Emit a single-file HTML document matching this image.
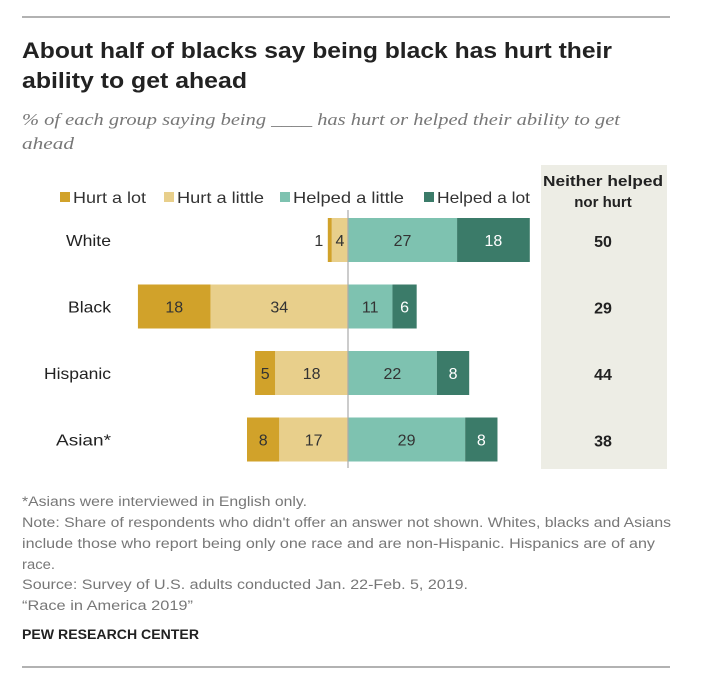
<!DOCTYPE html>
<html><head><meta charset="utf-8"><style>
body{margin:0;background:#fff;width:703px;height:698px;overflow:hidden;font-family:"Liberation Sans",Arial,sans-serif;}
svg{position:absolute;left:0;top:0}
</style></head><body>
<svg width="703" height="698">
<line x1="22" y1="17" x2="670" y2="17" stroke="#999" stroke-width="1.5"/>
<text x="22" y="58" font-size="22" font-weight="bold" fill="#222" textLength="590" lengthAdjust="spacingAndGlyphs">About half of blacks say being black has hurt their</text>
<text x="22" y="88" font-size="22" font-weight="bold" fill="#222" textLength="225" lengthAdjust="spacingAndGlyphs">ability to get ahead</text>
<text x="22" y="125" font-size="17" font-style="italic" fill="#777" font-family="Liberation Serif,serif" textLength="598" lengthAdjust="spacingAndGlyphs">% of each group saying being ____ has hurt or helped their ability to get</text>
<text x="22" y="149" font-size="17" font-style="italic" fill="#777" font-family="Liberation Serif,serif" textLength="52" lengthAdjust="spacingAndGlyphs">ahead</text>
<rect x="541" y="165" width="126" height="304" fill="#ededE5"/>
<text x="603" y="186" font-size="15" font-weight="bold" text-anchor="middle" fill="#222" textLength="120" lengthAdjust="spacingAndGlyphs">Neither helped</text>
<text x="603" y="207" font-size="15" font-weight="bold" text-anchor="middle" fill="#222">nor hurt</text>
<g id="legend"></g>
<g id="bars"></g>
<line x1="348" y1="210" x2="348" y2="468" stroke="#aaa" stroke-width="1.2"/>
<g font-size="13.5" fill="#777" lengthAdjust="spacingAndGlyphs">
<text x="22" y="506" textLength="285" lengthAdjust="spacingAndGlyphs">*Asians were interviewed in English only.</text>
<text x="22" y="527" textLength="649" lengthAdjust="spacingAndGlyphs">Note: Share of respondents who didn't offer an answer not shown. Whites, blacks and Asians</text>
<text x="22" y="548" textLength="633" lengthAdjust="spacingAndGlyphs">include those who report being only one race and are non-Hispanic. Hispanics are of any</text>
<text x="22" y="569" textLength="33" lengthAdjust="spacingAndGlyphs">race.</text>
<text x="22" y="589" textLength="446" lengthAdjust="spacingAndGlyphs">Source: Survey of U.S. adults conducted Jan. 22-Feb. 5, 2019.</text>
<text x="22" y="610" textLength="171" lengthAdjust="spacingAndGlyphs">“Race in America 2019”</text>
</g>
<text x="22" y="639" font-size="13.5" font-weight="bold" fill="#222" textLength="177" lengthAdjust="spacingAndGlyphs">PEW RESEARCH CENTER</text>
<line x1="22" y1="667" x2="670" y2="667" stroke="#999" stroke-width="1.5"/>
</svg>
<script>
const categories=["White","Black","Hispanic","Asian*"];
const hurtLot=[1,18,5,8];
const hurtLittle=[4,34,18,17];
const helpedLittle=[27,11,22,29];
const helpedLot=[18,6,8,8];
const neither=[50,29,44,38];
const seriesNames=["Hurt a lot","Hurt a little","Helped a little","Helped a lot"];
const colors=["#d1a22a","#e8cf8b","#7ec2b0","#3b7b69"];
const NS="http://www.w3.org/2000/svg";
const x0=348,k=4.04,barH=44;
const yOf=i=>218+i*66.5;
const X=v=>x0+v*k;
function mk(tag,attrs,parent){const e=document.createElementNS(NS,tag);for(const a in attrs)e.setAttribute(a,attrs[a]);parent.appendChild(e);return e;}
const g=document.getElementById('bars');
const lg=document.getElementById('legend');
const lx=[60,164,280,424];
const lw=[73,87,111,93];
const cw=[45,43,67,55];
seriesNames.forEach((n,j)=>{
 const r=mk('rect',{x:lx[j],y:192,width:10,height:10,fill:colors[j]},lg);
 
 
 const t=mk('text',{x:lx[j]+13,y:203,'font-size':16,fill:'#333',textLength:lw[j],lengthAdjust:'spacingAndGlyphs'},lg);t.textContent=n;
 
 
});
categories.forEach((c,i)=>{
 const y=yOf(i);
 const lab=mk('text',{x:111,y:y+28,'font-size':16,'text-anchor':'end',fill:'#222',textLength:cw[i],lengthAdjust:'spacingAndGlyphs'},g);lab.textContent=c;
 
 
 const segs=[
  {a:-hurtLittle[i]-hurtLot[i],b:-hurtLittle[i],v:hurtLot[i],c:0},
  {a:-hurtLittle[i],b:0,v:hurtLittle[i],c:1},
  {a:0,b:helpedLittle[i],v:helpedLittle[i],c:2},
  {a:helpedLittle[i],b:helpedLittle[i]+helpedLot[i],v:helpedLot[i],c:3}];
 segs.forEach(s=>{
  const r=mk('rect',{x:X(s.a),y:y,width:X(s.b)-X(s.a),height:barH,fill:colors[s.c]},g);
  
  
  let tx=(X(s.a)+X(s.b))/2;
  if(s.v<2) tx=X(s.a)-9;
  const t=mk('text',{x:tx,y:y+28,'font-size':16,'text-anchor':'middle',fill:s.c===3?'#fff':'#333'},g);t.textContent=s.v;
  
  
 });
 const n=mk('text',{x:603,y:y+29,'font-size':16,'font-weight':'bold','text-anchor':'middle',fill:'#222'},g);n.textContent=neither[i];
 
 
});
</script>
</body></html>
